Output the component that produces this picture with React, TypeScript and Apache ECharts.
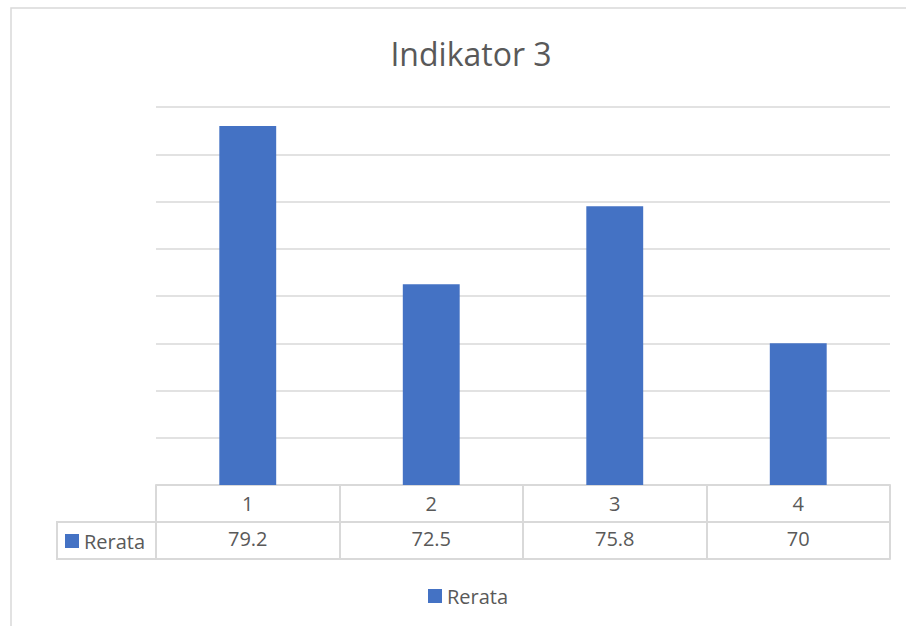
import React, { useEffect, useRef } from "react";
import * as echarts from "echarts";

const categories = ["1", "2", "3", "4"];
const seriesName = "Rerata";
const values = [79.2, 72.5, 75.8, 70];
const yMin = 64;
const yMax = 80;
const yInterval = 2;

const GRAY = "#D9D9D9";
const TEXT = "#595959";
const BLUE = "#4472C4";
const FONT = "Open Sans";

export default function App() {
  const ref = useRef<HTMLDivElement>(null);
  useEffect(() => {
    if (!ref.current) return;
    const chart = echarts.init(ref.current, null, { renderer: "svg" });
    chart.setOption({
      animation: false,
      backgroundColor: "#fff",
      textStyle: { fontFamily: FONT },
      title: {
        text: "Indikator 3",
        left: 466,
        textAlign: "center",
        top: 32,
        textStyle: { fontSize: 32, fontWeight: "normal", color: TEXT, fontFamily: FONT },
      },
      legend: [
        {
          data: [seriesName],
          left: 428,
          top: 583,
          icon: "rect",
          itemWidth: 14,
          itemHeight: 14,
          padding: 0,
          textStyle: { fontSize: 20, lineHeight: 26, color: TEXT, fontFamily: FONT },
        },
        {
          data: [seriesName],
          left: 65,
          top: 528,
          icon: "rect",
          itemWidth: 14,
          itemHeight: 14,
          padding: 0,
          textStyle: { fontSize: 20, lineHeight: 26, color: TEXT, fontFamily: FONT },
          selectedMode: false,
        },
      ],
      grid: { left: 156, right: 16, top: 107, bottom: 141 },
      xAxis: [
        {
          type: "category",
          data: categories,
          position: "bottom",
          axisLine: { show: true, lineStyle: { color: GRAY, width: 2 } },
          axisTick: { show: true, length: 74, lineStyle: { color: GRAY, width: 2 } },
          axisLabel: { fontSize: 20, color: TEXT, fontFamily: FONT, margin: 8 },
        },
        {
          type: "category",
          data: values.map((v) => String(v)),
          position: "bottom",
          offset: 37,
          axisLine: { show: true, lineStyle: { color: GRAY, width: 2 } },
          axisTick: { show: false },
          axisLabel: { fontSize: 20, color: TEXT, fontFamily: FONT, margin: 6 },
        },
        {
          type: "category",
          data: categories,
          position: "bottom",
          offset: 74,
          axisLine: { show: true, lineStyle: { color: GRAY, width: 2 } },
          axisTick: { show: false },
          axisLabel: { show: false },
        },
      ],
      yAxis: {
        type: "value",
        min: yMin,
        max: yMax,
        interval: yInterval,
        axisLabel: { show: false },
        axisLine: { show: false },
        axisTick: { show: false },
        splitLine: { lineStyle: { color: GRAY, width: 1.5 } },
      },
      series: [
        {
          name: seriesName,
          type: "bar",
          data: values,
          barWidth: "31%",
          itemStyle: { color: BLUE },
        },
      ],
      graphic: [
        {
          type: "rect",
          shape: { x: 11, y: 8, width: 1000, height: 1000 },
          style: { fill: "none", stroke: GRAY, lineWidth: 1.5 },
          silent: true,
        },
        {
          type: "rect",
          shape: { x: 57, y: 522, width: 99, height: 37 },
          style: { fill: "none", stroke: GRAY, lineWidth: 2 },
          silent: true,
        },
      ],
    });
    return () => chart.dispose();
  }, []);
  return (
    <div
      ref={ref}
      style={{ position: "fixed", left: 0, top: 0, width: 906, height: 626 }}
    />
  );
}
